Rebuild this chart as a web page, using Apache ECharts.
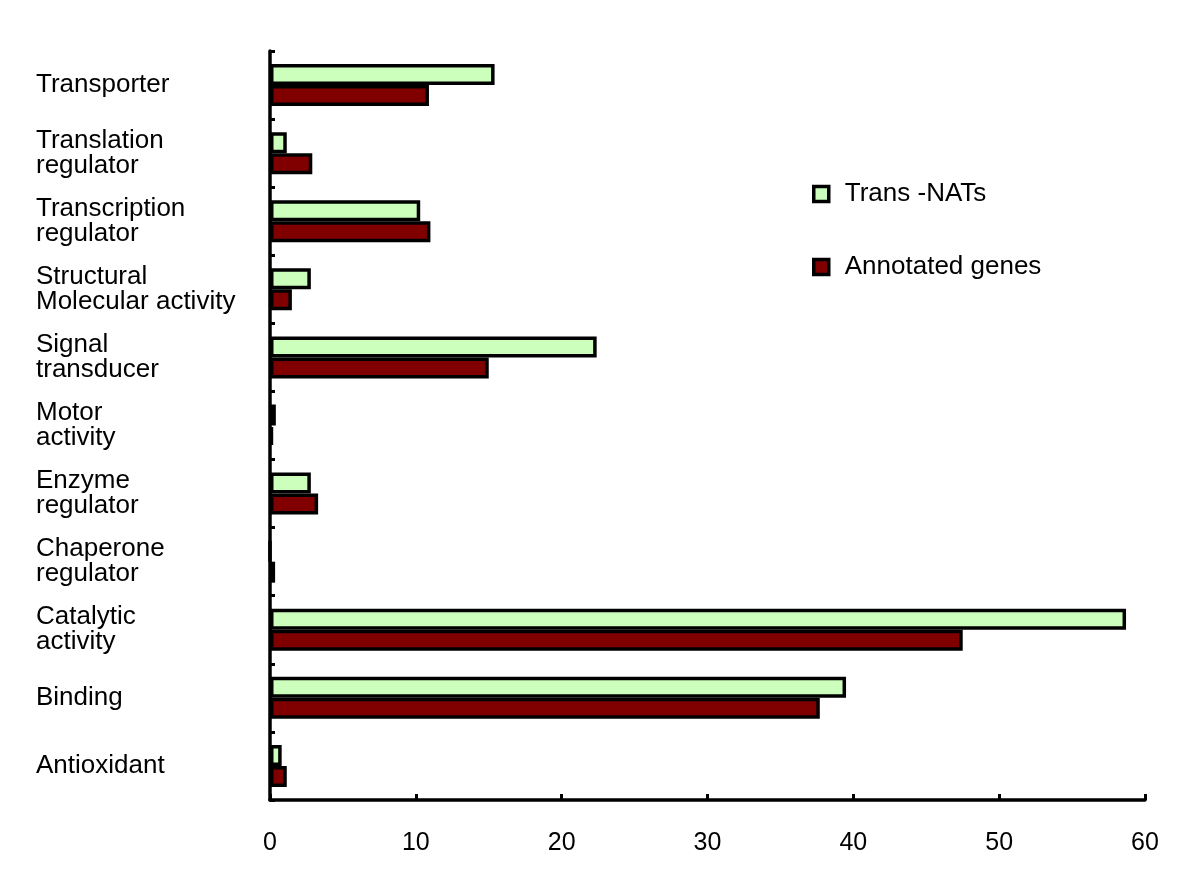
<!DOCTYPE html>
<html>
<head>
<meta charset="utf-8">
<script src="https://cdn.jsdelivr.net/npm/echarts@6/dist/echarts.min.js"></script>
<style>html,body{margin:0;padding:0;background:#fff}#c{width:1200px;height:881px}</style>
</head>
<body>
<div id="c"></div>
<script>
const categories = [
  "Antioxidant",
  "Binding",
  "Catalytic\nactivity",
  "Chaperone\nregulator",
  "Enzyme\nregulator",
  "Motor\nactivity",
  "Signal\ntransducer",
  "Structural\nMolecular activity",
  "Transcription\nregulator",
  "Translation\nregulator",
  "Transporter"
];
const transNATs =      [0.8, 39.5, 58.7, 0,    2.8, 0.4, 22.4, 2.8, 10.3, 1.15, 15.4];
const annotatedGenes = [1.15, 37.7, 47.5, 0.35, 3.3, 0.2, 15.0, 1.5, 11.0, 2.9, 10.9];
const xTicks = [0, 10, 20, 30, 40, 50, 60];

const font = "'Liberation Sans', Arial, Helvetica, sans-serif";
const chart = echarts.init(document.getElementById('c'), null, {renderer: 'canvas'});
chart.setOption({
  animation: false,
  backgroundColor: '#ffffff',
  textStyle: {fontFamily: font},
  grid: {left: 270, right: 55, top: 51, bottom: 81, containLabel: false},
  legend: {
    orient: 'vertical',
    left: 807,
    top: 176,
    icon: 'rect',
    itemWidth: 15,
    itemHeight: 15,
    itemGap: 47,
    data: ['Trans -NATs', 'Annotated genes'],
    itemStyle: {borderWidth: 3.5, borderColor: '#000'},
    textStyle: {fontSize: 26, color: '#000', fontFamily: font, padding: [0, 0, 0, 11], lineHeight: 26}
  },
  xAxis: {
    type: 'value',
    min: xTicks[0],
    max: xTicks[xTicks.length - 1],
    interval: 10,
    splitLine: {show: false},
    axisLine: {show: true, lineStyle: {color: '#000', width: 3.5}},
    axisTick: {show: true, inside: true, length: 6, lineStyle: {color: '#000', width: 3}},
    axisLabel: {fontSize: 25, color: '#000', margin: 31, fontFamily: font}
  },
  yAxis: {
    type: 'category',
    data: categories,
    axisLine: {show: true, lineStyle: {color: '#000', width: 3.5}},
    axisTick: {show: true, inside: true, length: 5, lineStyle: {color: '#000', width: 3}},
    axisLabel: {fontSize: 26, color: '#000', align: 'left', margin: 234, lineHeight: 25, padding: [6, 0, 0, 0], fontFamily: font}
  },
  series: [
    {
      name: 'Trans -NATs',
      type: 'bar',
      data: transNATs,
      barWidth: 21,
      barGap: '0%',
      itemStyle: {color: '#ccffbb', borderColor: '#000', borderWidth: 3.5}
    },
    {
      name: 'Annotated genes',
      type: 'bar',
      data: annotatedGenes,
      barWidth: 21,
      barGap: '0%',
      itemStyle: {color: '#800000', borderColor: '#000', borderWidth: 3.5}
    }
  ]
});
</script>
</body>
</html>
